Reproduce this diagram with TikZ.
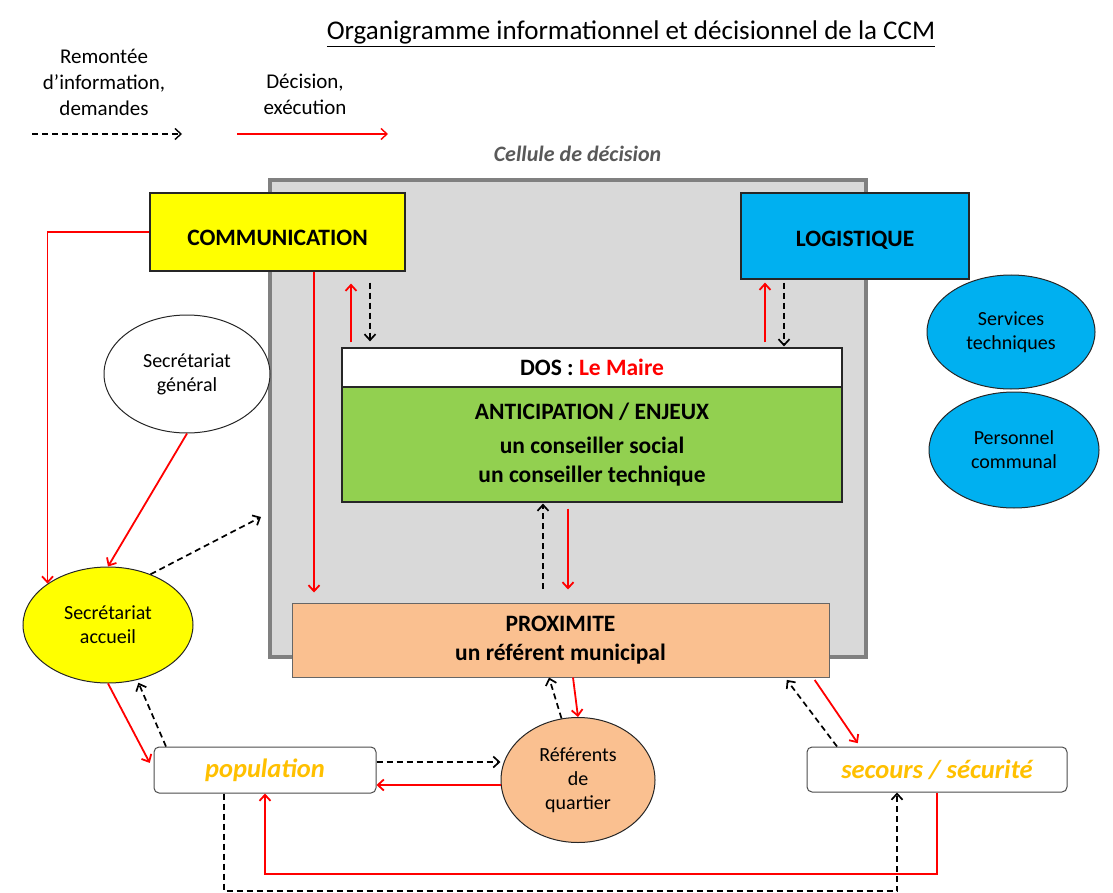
\documentclass[tikz,border=0pt]{standalone}
\usepackage{fontspec}
\setmainfont{Carlito}
\usetikzlibrary{shapes.geometric,arrows.meta}
\definecolor{jaune}{HTML}{FFFF00}
\definecolor{bleu}{HTML}{00B0F0}
\definecolor{vert}{HTML}{92D050}
\definecolor{peche}{HTML}{FAC090}
\definecolor{grisfond}{HTML}{D9D9D9}
\definecolor{grisbord}{HTML}{808080}
\definecolor{gristexte}{HTML}{595959}
\definecolor{ambre}{HTML}{FFC000}
\definecolor{rouge}{HTML}{FF0000}

\begin{document}
\begin{tikzpicture}[x=1pt, y=-1pt, thick,
    >={Straight Barb[length=6pt,width=11pt]},
    box/.style = {draw=black!85, line width=1.2pt, rectangle, inner sep=0pt},
    ell/.style = {draw=black!85, line width=1pt, ellipse, inner sep=0pt, align=center, font=\fontsize{20}{24}\selectfont},
    big/.style = {font=\fontsize{23.5}{28.5}\selectfont\bfseries},
    lieu/.style = {box, draw=black!70, line width=1pt, rounded corners=5pt, fill=white, font=\fontsize{26.5}{31}\selectfont\bfseries\itshape, text=ambre},
    leg/.style = {align=center, font=\fontsize{21}{26}\selectfont},
    dec/.style = {->, draw=rouge, line width=1.8pt},
    info/.style = {->, draw=black, line width=1.7pt, dash pattern=on 6pt off 4pt}]
    \useasboundingbox (0,0) rectangle (1113,893);

    % titre et legende
    \node[anchor=base, font=\fontsize{27}{32}\selectfont] (titre) at (631,40) {\underline{Organigramme informationnel et décisionnel de la CCM}};
    \node[leg] (remontee) at (104,82) {Remontée\\d’information,\\demandes};
    \node[leg] (decision) at (305,94) {Décision,\\exécution};
    \coordinate (legA1) at (32,134);
    \coordinate (legA2) at (182,134);
    \coordinate (legB1) at (237,134);
    \coordinate (legB2) at (388,134);
    \draw[info, line width=1.4pt] (legA1) -- (legA2);
    \draw[dec, line width=1.4pt] (legB1) -- (legB2);

    % cellule de decision
    \node[draw=grisbord, line width=4pt, fill=grisfond, minimum width=596pt, minimum height=477pt] (cellule) at (568,418.5) {};
    \node[anchor=base, font=\fontsize{22}{26}\selectfont\bfseries\itshape, text=gristexte] (titrecell) at (577.5,162) {Cellule de décision};

    \node[box, big, fill=jaune, minimum width=255pt, minimum height=78pt, text height=28pt, text depth=0pt] (comm) at (277.5,232) {COMMUNICATION};
    \node[box, big, fill=bleu, minimum width=228pt, minimum height=86pt, text height=22pt, text depth=0pt] (logi) at (855,236) {LOGISTIQUE};
    \node[box, big, fill=white, minimum width=500pt, minimum height=39pt] (dos) at (592,367.5) {DOS : \textcolor{rouge}{Le Maire}};
    \node[box, big, fill=vert, minimum width=500pt, minimum height=115pt, align=center] (anticip) at (592,444.5) {ANTICIPATION / ENJEUX\\[6pt]un conseiller social\\un conseiller technique};
    \node[box, big, draw=black!60, line width=1pt, fill=peche, minimum width=537pt, minimum height=74pt, align=center] (prox) at (560.5,640) {PROXIMITE\\un référent municipal};

    % ellipses
    \node[ell, fill=white, minimum width=166pt, minimum height=118pt] (secgen) at (187,374) {Secrétariat\\général};
    \node[ell, fill=jaune, minimum width=170pt, minimum height=116pt] (accueil) at (108,625) {Secrétariat\\accueil};
    \node[ell, fill=bleu, minimum width=168pt, minimum height=114pt] (servtech) at (1011,332) {Services\\techniques};
    \node[ell, fill=bleu, minimum width=170pt, minimum height=116pt] (perso) at (1014,450) {Personnel\\communal};
    \node[ell, fill=peche, minimum width=154pt, minimum height=125pt] (referents) at (578,780) {Référents\\de\\quartier};

    \node[lieu, minimum width=222pt, minimum height=46pt] (pop) at (265,770) {population};
    \node[lieu, minimum width=260pt, minimum height=45pt] (secours) at (937,769.5) {secours / sécurité};

    % colonnes et lignes des fleches
    \coordinate (xA) at (314,0);
    \coordinate (xB) at (351,0);
    \coordinate (xC) at (370,0);
    \coordinate (xD) at (765,0);
    \coordinate (xE) at (784,0);
    \coordinate (xF) at (543,0);
    \coordinate (xG) at (568,0);
    \coordinate (xH) at (549,0);
    \coordinate (xI) at (573,0);
    \coordinate (xJ) at (837,0);
    \coordinate (xK) at (785,0);
    \coordinate (xL) at (813,0);
    \coordinate (xM) at (860,0);
    \coordinate (xN) at (166,0);
    \coordinate (xO) at (224,0);
    \coordinate (xP) at (897,0);
    \coordinate (yA) at (0,762);
    \coordinate (yB) at (0,785);
    \coordinate (yC) at (0,874);
    \coordinate (yD) at (0,891);
    \coordinate (cellIn) at (261,517);

    \draw[dec] (comm.west) -| (accueil.north west);
    \draw[dec] (secgen.south) -- (accueil.north);
    \draw[info] (accueil.50) -- (cellIn);
    \draw[dec, shorten >=10pt] (comm.south -| xA) -- (prox.north -| xA);
    \draw[dec, shorten <=5pt, shorten >=12pt] (dos.north -| xB) -- (comm.south -| xB);
    \draw[info, shorten <=11pt, shorten >=6pt] (comm.south -| xC) -- (dos.north -| xC);
    \draw[dec, shorten <=5pt, shorten >=3pt] (dos.north -| xD) -- (logi.south -| xD);
    \draw[info, shorten <=3pt, shorten >=1pt] (logi.south -| xE) -- (dos.north -| xE);
    \draw[info, shorten <=14pt, shorten >=1pt] (prox.north -| xF) -- (anticip.south -| xF);
    \draw[dec, shorten <=6pt, shorten >=13pt] (anticip.south -| xG) -- (prox.north -| xG);
    \draw[info] (referents.105) -- (prox.south -| xH);
    \draw[dec] (prox.south -| xI) -- (referents.north);
    \draw[info, shorten >=3pt] (secours.north -| xJ) -- (prox.south -| xK);
    \draw[dec, shorten <=3pt, shorten >=4pt] (prox.south -| xL) -- (secours.north -| xM);
    \draw[dec, shorten >=8pt] (accueil.south) -- (pop.west);
    \draw[info, shorten >=3pt] (pop.north -| xN) -- (accueil.-62);
    \draw[info] (pop.east |- yA) -- (referents.west |- yA);
    \draw[dec] (referents.west |- yB) -- (pop.east |- yB);
    \draw[dec] (secours.south) -- (secours.south |- yC) -| (pop.south);
    \draw[info] (pop.south -| xO) -- (xO |- yD) -| (secours.south -| xP);
\end{tikzpicture}
\end{document}
